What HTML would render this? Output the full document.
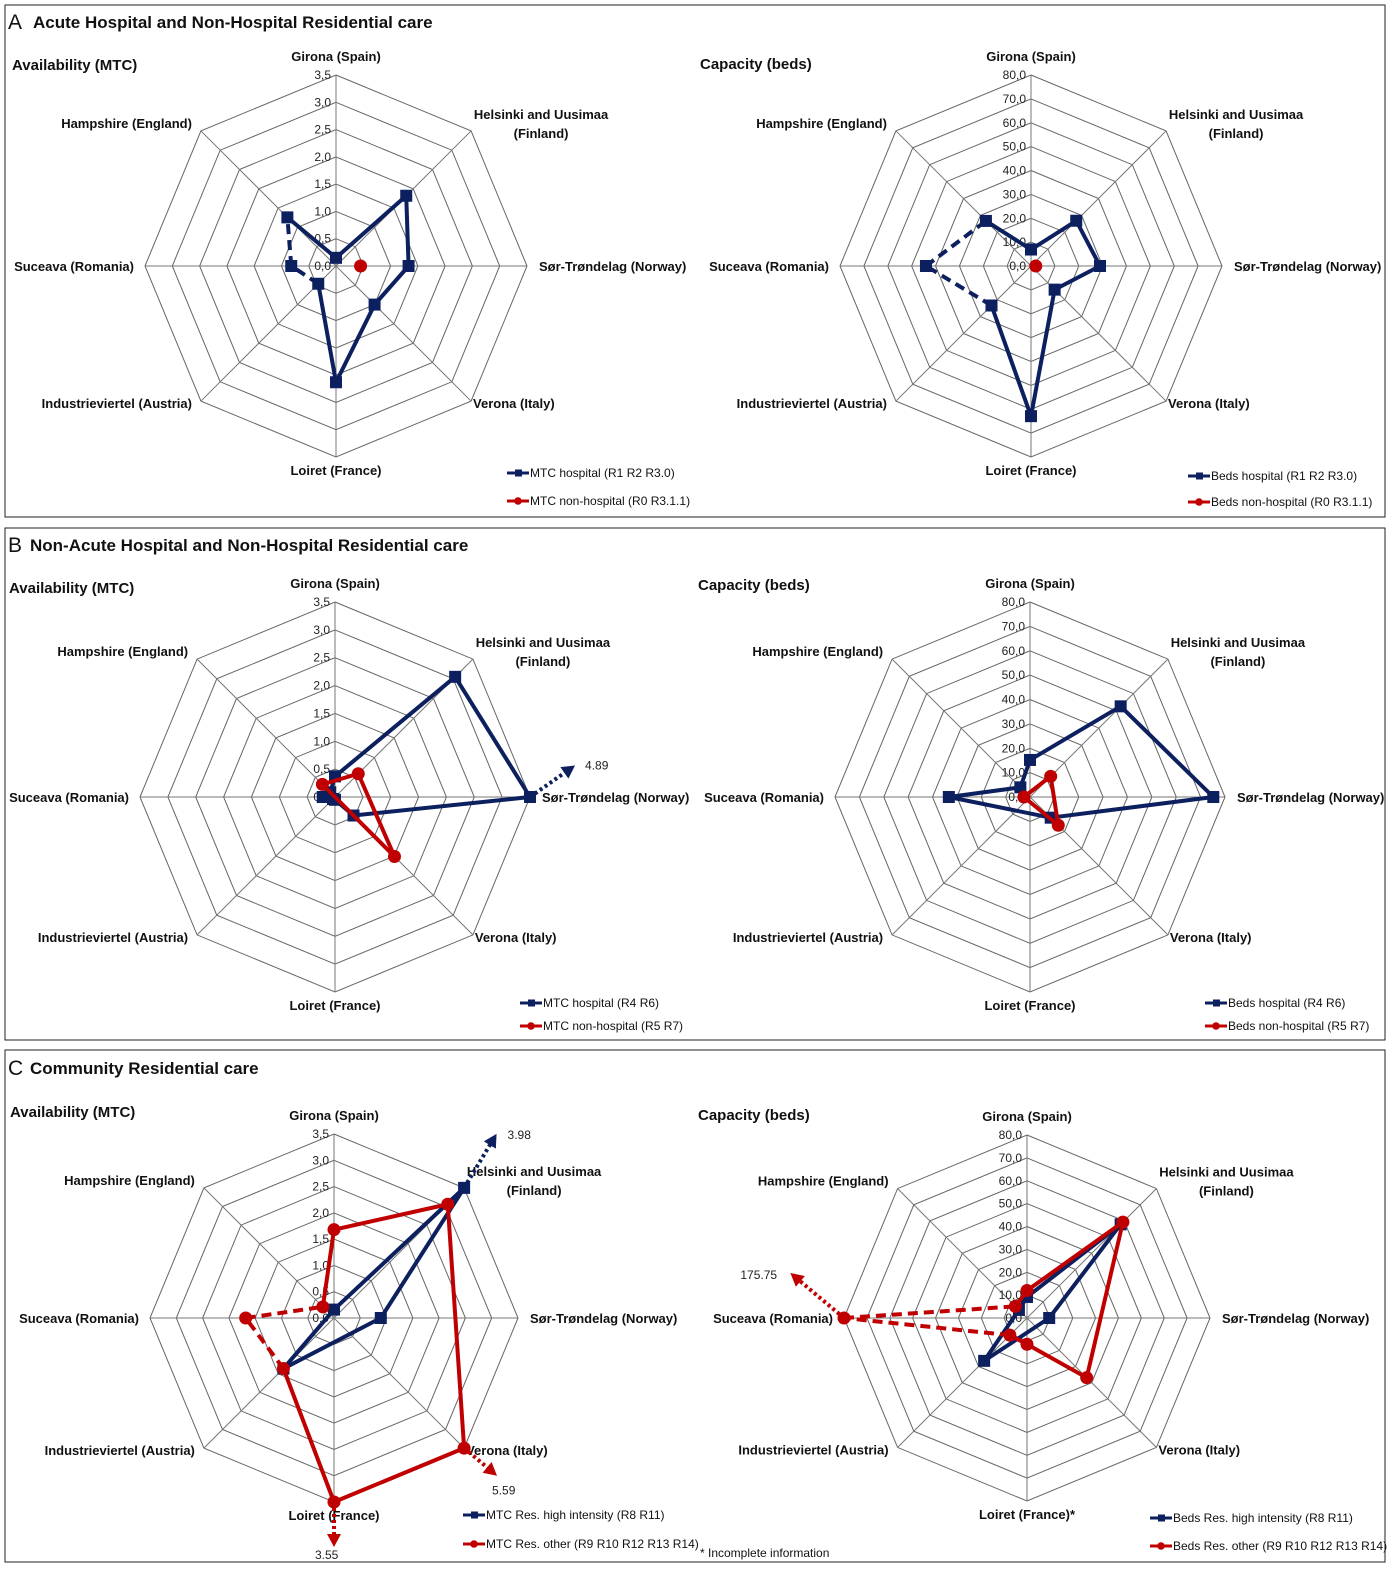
<!DOCTYPE html>
<html><head><meta charset="utf-8">
<style>
html,body{margin:0;padding:0;background:#fff;}
svg{display:block;font-family:"Liberation Sans",sans-serif;}
.cat{font-size:13px;font-weight:bold;fill:#111;}
.tick{font-size:12px;fill:#222;}
.leg{font-size:12px;fill:#111;}
.ptitle{font-size:17px;font-weight:bold;fill:#111;}
.sub{font-size:15px;font-weight:bold;fill:#111;}
</style></head>
<body>
<svg id="fig" width="1400" height="1582" viewBox="0 0 1400 1582" xmlns="http://www.w3.org/2000/svg">
<rect x="0" y="0" width="1400" height="1582" fill="#fff"/>
<g>
<rect x="5" y="5" width="1380" height="512" fill="none" stroke="#222" stroke-width="1"/>
<text x="8" y="29" font-size="21" fill="#111">A</text>
<text x="33" y="28" class="ptitle">Acute Hospital and Non-Hospital Residential care</text>
<text x="12" y="70" class="sub">Availability (MTC)</text>
<text x="700" y="69" class="sub">Capacity (beds)</text>
</g>
<g>
<rect x="5" y="528" width="1380" height="512" fill="none" stroke="#222" stroke-width="1"/>
<text x="8" y="552" font-size="21" fill="#111">B</text>
<text x="30" y="551" class="ptitle">Non-Acute Hospital and Non-Hospital Residential care</text>
<text x="9" y="593" class="sub">Availability (MTC)</text>
<text x="698" y="590" class="sub">Capacity (beds)</text>
</g>
<g>
<rect x="5" y="1050" width="1380" height="512" fill="none" stroke="#222" stroke-width="1"/>
<text x="8" y="1075" font-size="21" fill="#111">C</text>
<text x="30" y="1074" class="ptitle">Community Residential care</text>
<text x="10" y="1117" class="sub">Availability (MTC)</text>
<text x="698" y="1120" class="sub">Capacity (beds)</text>
<text x="700" y="1557" class="leg">* Incomplete information</text>
</g>
</svg>
<script>
const categories = ["Girona (Spain)", "Helsinki and Uusimaa|(Finland)", "Sør-Trøndelag  (Norway)", "Verona (Italy)", "Loiret (France)", "Industrieviertel (Austria)", "Suceava (Romania)", "Hampshire (England)"];
const mtcTicks = ["0,0","0,5","1,0","1,5","2,0","2,5","3,0","3,5"];
const bedTicks = ["0,0","10,0","20,0","30,0","40,0","50,0","60,0","70,0","80,0"];

const aMtcHospital = [0.15, 1.82, 1.33, 1.0, 2.13, 0.46, 0.82, 1.26];
const aMtcNonHospital = [null, null, 0.45, null, null, null, null, null];
const aBedsHospital = [6.9, 26.8, 28.9, 14, 62.9, 23.4, 44, 26.7];
const aBedsNonHospital = [null, null, 2, null, null, null, null, null];

const bMtcHospital = [0.37, 3.05, 4.89, 0.47, 0.05, 0.05, 0.22, 0.12];
const bMtcNonHospital = [null, 0.59, null, 1.51, null, null, null, 0.32];
const bBedsHospital = [15.2, 52.6, 75.2, 12, null, null, 33.3, 5.6];
const bBedsNonHospital = [null, 12, null, 16.4, null, null, 2.5, null];

const cMtcHigh = [0.16, 3.98, 0.89, null, null, 1.36, null, null];
const cMtcOther = [1.68, 3.06, null, 5.59, 3.55, 1.36, 1.68, 0.3];
const cBedsHigh = [9.2, 57.9, 9.7, null, null, 26.5, null, 5];
const cBedsOther = [12, 59.3, null, 36.9, 11.5, 10.6, 175.75, 7.2];

const NAVY = "#0c1f5e", RED = "#c00000";
const NS = "http://www.w3.org/2000/svg";
const svg = document.getElementById("fig");
function mk(tag, attrs, parent) {
  const e = document.createElementNS(NS, tag);
  for (const k in attrs) e.setAttribute(k, attrs[k]);
  (parent || svg).appendChild(e);
  return e;
}

const charts = [
  {name:"a-availability", cx:336, cy:266, R:191, max:3.5, ticks:mtcTicks, star:"",
   series:[{name:"mtc-hospital", data:aMtcHospital, color:NAVY, marker:"sq", dashed:[5,6], label:"MTC hospital (R1 R2 R3.0)"},
           {name:"mtc-non-hospital", data:aMtcNonHospital, color:RED, marker:"ci", dashed:[], label:"MTC non-hospital (R0 R3.1.1)"}],
   legend:[507,473,28], arrows:{}},
  {name:"a-capacity", cx:1031, cy:266, R:191, max:80, ticks:bedTicks, star:"",
   series:[{name:"beds-hospital", data:aBedsHospital, color:NAVY, marker:"sq", dashed:[5,6], label:"Beds hospital (R1 R2 R3.0)"},
           {name:"beds-non-hospital", data:aBedsNonHospital, color:RED, marker:"ci", dashed:[], label:"Beds non-hospital (R0 R3.1.1)"}],
   legend:[1188,476,26], arrows:{}},
  {name:"b-availability", cx:335, cy:797, R:195, max:3.5, ticks:mtcTicks, star:"",
   series:[{name:"mtc-hospital", data:bMtcHospital, color:NAVY, marker:"sq", dashed:[4,5,6], label:"MTC hospital (R4 R6)"},
           {name:"mtc-non-hospital", data:bMtcNonHospital, color:RED, marker:"ci", dashed:[], label:"MTC non-hospital (R5 R7)"}],
   legend:[520,1003,23], arrows:{"0-2":{rot:-35,len:55,dx:10,dy:4}}},
  {name:"b-capacity", cx:1030, cy:797, R:195, max:80, ticks:bedTicks, star:"",
   series:[{name:"beds-hospital", data:bBedsHospital, color:NAVY, marker:"sq", dashed:[], label:"Beds hospital (R4 R6)"},
           {name:"beds-non-hospital", data:bBedsNonHospital, color:RED, marker:"ci", dashed:[], label:"Beds non-hospital (R5 R7)"}],
   legend:[1205,1003,23], arrows:{}},
  {name:"c-availability", cx:334, cy:1318, R:184, max:3.5, ticks:mtcTicks, star:"",
   series:[{name:"mtc-res-high", data:cMtcHigh, color:NAVY, marker:"sq", dashed:[], label:"MTC Res. high intensity (R8 R11)"},
           {name:"mtc-res-other", data:cMtcOther, color:RED, marker:"ci", dashed:[5,6], label:"MTC Res. other (R9 R10 R12 R13 R14)"}],
   legend:[463,1515,29], arrows:{"0-1":{rot:-14,len:63,dx:11,dy:5},"1-3":{rot:-5,len:43,dx:-5,dy:19},"1-4":{rot:0,len:45,dx:-19,dy:12}}},
  {name:"c-capacity", cx:1027, cy:1318, R:183, max:80, ticks:bedTicks, star:"*",
   series:[{name:"beds-res-high", data:cBedsHigh, color:NAVY, marker:"sq", dashed:[], label:"Beds Res. high intensity (R8 R11)"},
           {name:"beds-res-other", data:cBedsOther, color:RED, marker:"ci", dashed:[5,6], label:"Beds Res. other (R9 R10 R12 R13 R14)"}],
   legend:[1150,1518,28], arrows:{"1-6":{rot:40,len:70,dx:-50,dy:6}}}
];

function ang(i){ return (-90 + i*45) * Math.PI/180; }

function drawMarker(g, kind, x, y, color) {
  let m;
  if (kind === "sq") m = mk("rect", {x:x-6, y:y-6, width:12, height:12, fill:color}, g);
  else m = mk("circle", {cx:x, cy:y, r:6.5, fill:color}, g);
  
  
  return m;
}

charts.forEach(ch => {
  const g = mk("g", {});
  
  
  const n = ch.ticks.length - 1;
  const r = v => Math.min(v, ch.max) / ch.max * ch.R;
  const pt = (i, v) => [ch.cx + r(v) * Math.cos(ang(i)), ch.cy + r(v) * Math.sin(ang(i))];
  for (let k = 1; k <= n; k++) {
    const rr = ch.R * k / n;
    let pts = [];
    for (let i = 0; i < 8; i++) pts.push((ch.cx + rr*Math.cos(ang(i))).toFixed(1) + "," + (ch.cy + rr*Math.sin(ang(i))).toFixed(1));
    const ring = mk("polygon", {points:pts.join(" "), fill:"none", stroke:"#666", "stroke-width":1}, g);
    
    
  }
  for (let i = 0; i < 8; i++) {
    const sp = mk("line", {x1:ch.cx, y1:ch.cy, x2:ch.cx + ch.R*Math.cos(ang(i)), y2:ch.cy + ch.R*Math.sin(ang(i)), stroke:"#777", "stroke-width":1}, g);
    
    
  }
  ch.ticks.forEach((t, k) => {
    const tx = mk("text", {x:ch.cx - 5, y:ch.cy - ch.R*k/n + 4, "text-anchor":"end", class:"tick"}, g);
    tx.textContent = t;
    
    
  });
  const d = ch.R * Math.SQRT1_2;
  const lp = [
    [ch.cx, ch.cy - ch.R - 14, "middle"],
    [ch.cx + d + 70, ch.cy - d - 12, "middle"],
    [ch.cx + ch.R + 12, ch.cy + 5, "start"],
    [ch.cx + d + 2, ch.cy + d + 7, "start"],
    [ch.cx, ch.cy + ch.R + 18, "middle"],
    [ch.cx - d - 9, ch.cy + d + 7, "end"],
    [ch.cx - ch.R - 11, ch.cy + 5, "end"],
    [ch.cx - d - 9, ch.cy - d - 3, "end"]
  ];
  categories.forEach((c, i) => {
    const parts = c.split("|");
    const t = mk("text", {x:lp[i][0], y:lp[i][1], "text-anchor":lp[i][2], class:"cat"}, g);
    
    
    parts.forEach((p, j) => {
      const ts = mk("tspan", {x:lp[i][0], dy: j === 0 ? 0 : 19}, t);
      ts.textContent = p + (i === 4 ? ch.star : "");
    });
  });
  ch.series.forEach((s, si) => {
    const sg = mk("g", {}, g);
    
    
    const idx = [];
    s.data.forEach((v, i) => { if (v !== null) idx.push(i); });
    if (idx.length > 1) {
      for (let k = 0; k < idx.length; k++) {
        const a = idx[k], b = idx[(k+1) % idx.length];
        const p1 = pt(a, s.data[a]), p2 = pt(b, s.data[b]);
        const dash = s.dashed.indexOf(a) >= 0;
        const ln = mk("line", {x1:p1[0], y1:p1[1], x2:p2[0], y2:p2[1], stroke:s.color, "stroke-width":4, "stroke-dasharray": dash ? "10,6" : "none"}, sg);
        
        
      }
    }
    idx.forEach(i => {
      const p = pt(i, s.data[i]);
      drawMarker(sg, s.marker, p[0], p[1], s.color);
      const ar = ch.arrows[si + "-" + i];
      if (ar && s.data[i] > ch.max) {
        const a2 = ang(i) + ar.rot * Math.PI/180;
        const ex = p[0] + ar.len*Math.cos(a2), ey = p[1] + ar.len*Math.sin(a2);
        const al = mk("line", {x1:p[0], y1:p[1], x2:ex - 8*Math.cos(a2), y2:ey - 8*Math.sin(a2), stroke:s.color, "stroke-width":4, "stroke-dasharray":"3,3"}, sg);
        
        
        const px = -Math.sin(a2), py = Math.cos(a2);
        const hx = ex - 13*Math.cos(a2), hy = ey - 13*Math.sin(a2);
        const head = mk("polygon", {points:[ex+","+ey, (hx+7*px)+","+(hy+7*py), (hx-7*px)+","+(hy-7*py)].join(" "), fill:s.color}, sg);
        
        
        const vt = mk("text", {x:ex + ar.dx, y:ey + ar.dy, class:"tick", "font-size":"13"}, sg);
        vt.textContent = String(s.data[i]);
        
        
      }
    });
    const lx = ch.legend[0], ly = ch.legend[1] + si*ch.legend[2];
    const lg = mk("g", {}, g);
    
    
    mk("line", {x1:lx, y1:ly, x2:lx+22, y2:ly, stroke:s.color, "stroke-width":3}, lg);
    if (s.marker === "sq") mk("rect", {x:lx+8, y:ly-3.5, width:7, height:7, fill:s.color}, lg);
    else mk("circle", {cx:lx+11, cy:ly, r:3.8, fill:s.color}, lg);
    const lt = mk("text", {x:lx+23, y:ly+4, class:"leg"}, lg);
    lt.textContent = s.label;
  });
});
</script>
</body></html>
